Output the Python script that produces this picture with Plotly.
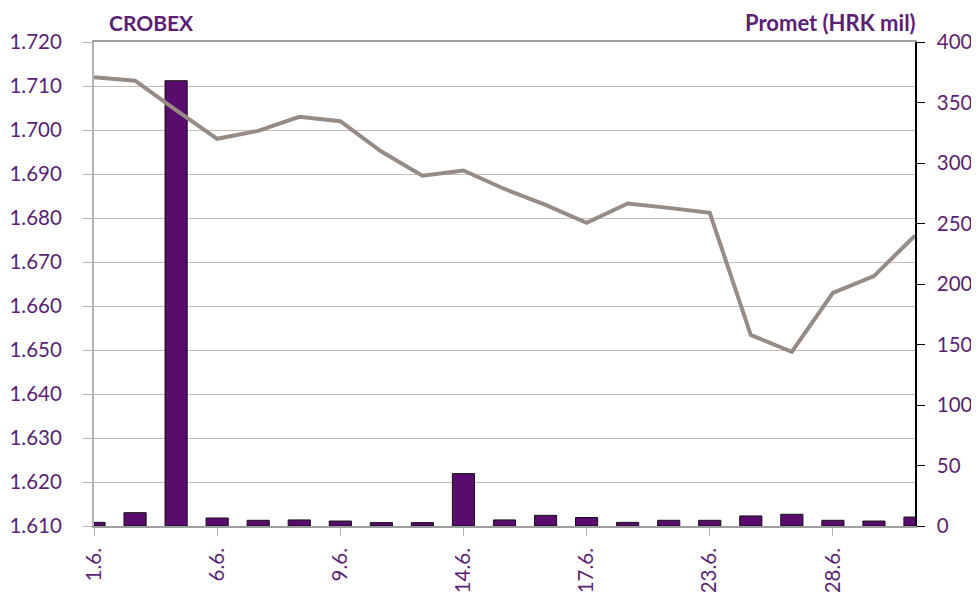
import plotly.graph_objects as go

dates = ["1.6.", "2.6.", "3.6.", "6.6.", "7.6.", "8.6.", "9.6.", "10.6.", "13.6.", "14.6.",
         "15.6.", "16.6.", "17.6.", "20.6.", "21.6.", "23.6.", "24.6.", "27.6.", "28.6.", "29.6.", "30.6."]
crobex = [1712.0, 1711.2, 1704.5, 1698.0, 1699.8, 1703.0, 1702.0, 1695.1, 1689.6, 1690.8,
          1686.6, 1683.0, 1678.9, 1683.3, 1682.3, 1681.2, 1653.4, 1649.6, 1663.0, 1666.8, 1676.0]
promet = [3.0, 11.0, 368.0, 6.6, 4.7, 5.0, 4.1, 2.8, 2.8, 43.3,
          5.0, 8.8, 7.0, 3.0, 4.7, 4.7, 8.3, 9.7, 4.7, 4.1, 7.4]
label_every = 3
tick_labels = dates[::label_every]
tick_idx = list(range(0, len(dates), label_every))

PURPLE_TXT = "#5B1F73"
BAR = "#590B6E"
LINE = "#968B85"
GRID = "#C5BDB6"
FONT = "Lato"
FS = 20.5

fig = go.Figure()
fig.add_trace(go.Bar(x=dates, y=promet, yaxis="y", xaxis="x", width=0.54,
                     marker=dict(color=BAR, line=dict(color="#111111", width=1)),
                     name="Promet"))
fig.add_trace(go.Scatter(x=dates, y=crobex, yaxis="y2", xaxis="x", mode="lines",
                         line=dict(color=LINE, width=4), name="CROBEX"))

# page body has an 8px default margin: the figure is sized and offset to compensate
fig.update_layout(
    width=971, height=584,
    margin=dict(l=86, r=64, t=34, b=66),
    paper_bgcolor="white", plot_bgcolor="white",
    showlegend=False,
    separators=",.",
    font=dict(family=FONT, size=FS, color=PURPLE_TXT),
    xaxis=dict(type="category", range=[0, len(dates) - 1], tickmode="array",
               tickvals=tick_labels, ticktext=tick_labels, tickangle=-90,
               ticks="outside", ticklen=8, tickcolor="#B5B5B5", tickwidth=1.2,
               showline=True, linecolor="#9E9E9E", linewidth=1.5, mirror=True,
               showgrid=False, zeroline=False, automargin=False,
               ticklabelstandoff=4,
               tickfont=dict(family=FONT, size=FS, color=PURPLE_TXT)),
    xaxis2=dict(overlaying="x", anchor="y", range=[0, len(dates) - 1],
                tickmode="array", tickvals=tick_idx, ticks="inside", ticklen=7,
                tickcolor="#B5B5B5", tickwidth=1.2, showticklabels=False,
                showline=False, showgrid=False, zeroline=False, automargin=False),
    yaxis=dict(side="right", range=[0, 400], dtick=50, showgrid=False, zeroline=False,
               showline=True, linecolor="#000000", linewidth=1.5,
               ticks="outside", ticklen=8, tickcolor="#000000", tickwidth=1.2,
               ticklabelstandoff=8, automargin=False,
               tickfont=dict(family=FONT, size=FS, color=PURPLE_TXT)),
    yaxis2=dict(overlaying="y", side="left", anchor="x", range=[1610, 1720], dtick=10,
                tickformat=",d", showgrid=True, gridcolor=GRID, gridwidth=1,
                zeroline=False, showline=True, linecolor="#B4B4B4", linewidth=2,
                ticks="outside", ticklen=9, tickcolor="#B4B4B4", tickwidth=1.2,
                ticklabelstandoff=17, automargin=False,
                tickfont=dict(family=FONT, size=FS, color=PURPLE_TXT)),
    yaxis3=dict(overlaying="y", side="right", anchor="x", range=[0, 400], dtick=50,
                showgrid=False, zeroline=False, showline=False, showticklabels=False,
                ticks="inside", ticklen=7, tickcolor="#000000", tickwidth=1.2,
                automargin=False),
    annotations=[
        dict(text="<b>CROBEX</b>", xref="paper", yref="paper", x=0.016, y=1.04,
             xanchor="left", yanchor="middle", showarrow=False,
             font=dict(family=FONT, size=21, color=PURPLE_TXT)),
        dict(text="<b>Promet (HRK mil)</b>", xref="paper", yref="paper", x=1.004, y=1.04,
             xanchor="right", yanchor="middle", showarrow=False,
             font=dict(family=FONT, size=22, color=PURPLE_TXT)),
    ],
)

fig.write_html("out.html")
